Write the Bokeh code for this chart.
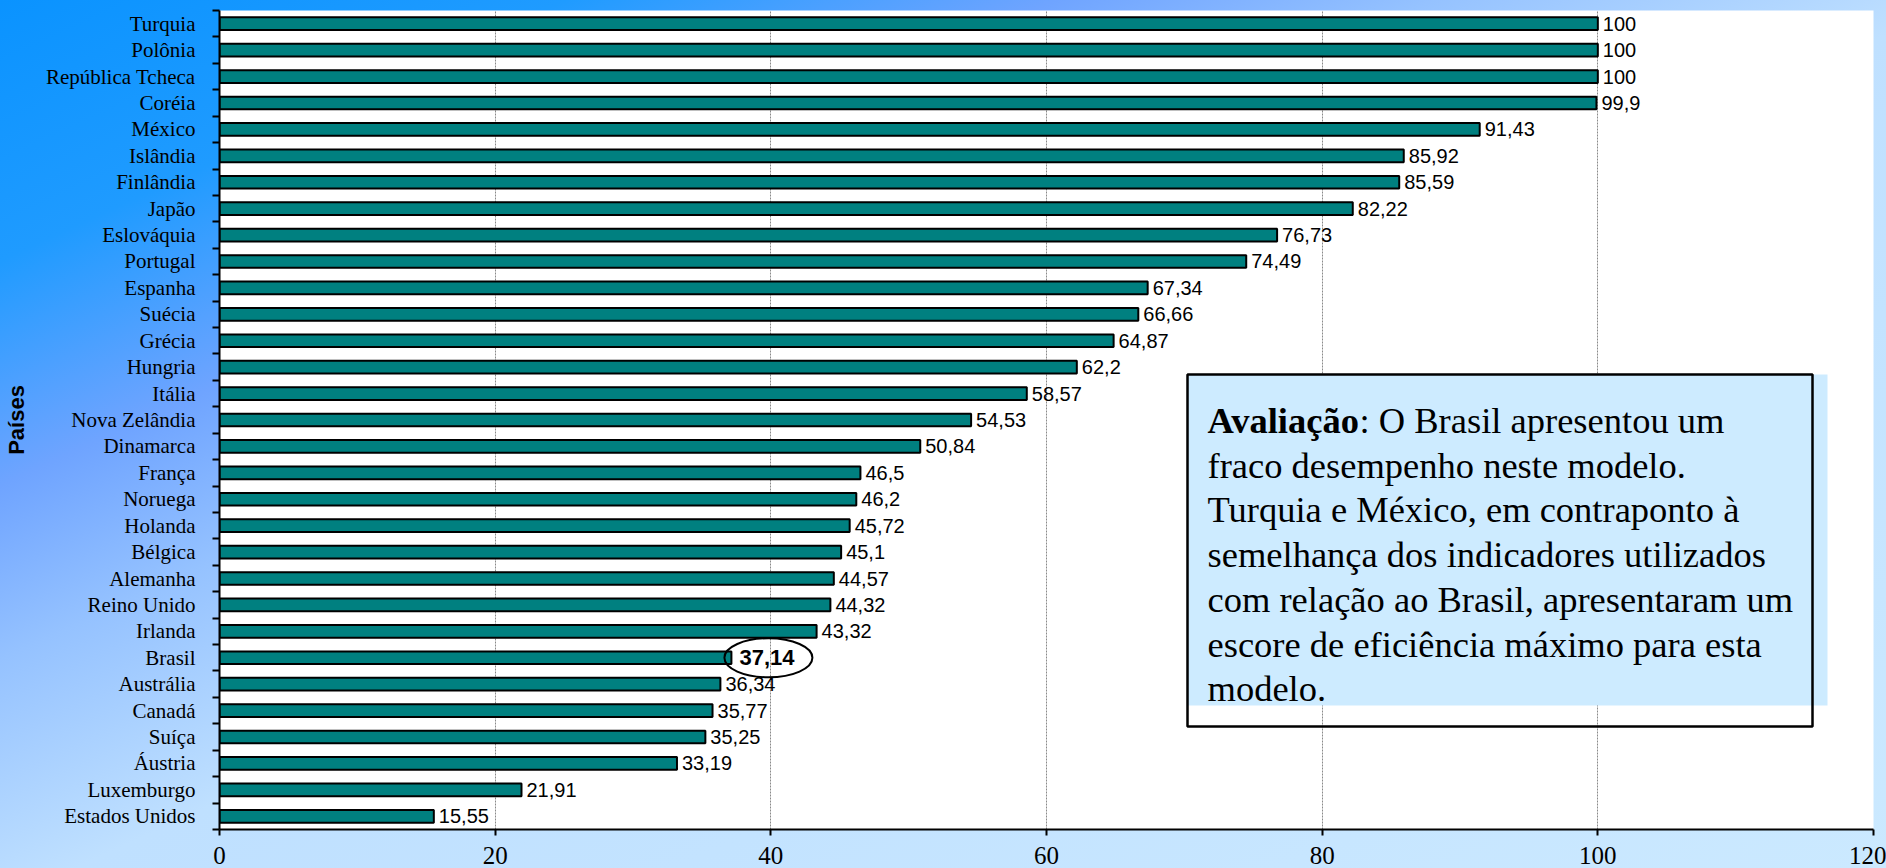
from bokeh.plotting import figure
from bokeh.models import FixedTicker, Range1d, ColumnDataSource
from bokeh.core.properties import value
from bokeh.embed import file_html
from bokeh.resources import INLINE

# ---------------- data ----------------
countries = ["Turquia", "Polônia", "República Tcheca", "Coréia", "México", "Islândia",
             "Finlândia", "Japão", "Eslováquia", "Portugal", "Espanha", "Suécia",
             "Grécia", "Hungria", "Itália", "Nova Zelândia", "Dinamarca", "França",
             "Noruega", "Holanda", "Bélgica", "Alemanha", "Reino Unido", "Irlanda",
             "Brasil", "Austrália", "Canadá", "Suíça", "Áustria", "Luxemburgo",
             "Estados Unidos"]
scores = [100, 100, 100, 99.9, 91.43, 85.92, 85.59, 82.22, 76.73, 74.49, 67.34, 66.66,
          64.87, 62.2, 58.57, 54.53, 50.84, 46.5, 46.2, 45.72, 45.1, 44.57, 44.32, 43.32,
          37.14, 36.34, 35.77, 35.25, 33.19, 21.91, 15.55]
highlight = "Brasil"
x_ticks = [0, 20, 40, 60, 80, 100, 120]
axis_title = "Países"
note_bold = "Avaliação"
note_lines = [": O Brasil apresentou um",
              "fraco desempenho neste modelo.",
              "Turquia e México, em contraponto à",
              "semelhança dos indicadores utilizados",
              "com relação ao Brasil, apresentaram um",
              "escore de eficiência máximo para esta",
              "modelo."]

# ---------------- layout helpers ----------------
W, H = 1886, 868
FL, FR, FT, FB = 219, 1873, 10, 829
N = len(countries)
XMAX = x_ticks[-1]
pxu = (FR - FL) / XMAX
pyu = (FB - FT) / N


def dx(px):
    return (px - FL) / pxu


def dy(py):
    return (N - 0.5) - (py - FT) / pyu


def fmt(v):
    s = f"{v:.2f}".rstrip("0").rstrip(".")
    return s.replace(".", ",")


ypos = [N - 1 - i for i in range(N)]
labels = [fmt(v) for v in scores]
normal = [c != highlight for c in countries]

src = ColumnDataSource(dict(y=ypos, v=scores, name=countries, lab=labels))
src_norm = ColumnDataSource(dict(y=[y for y, n in zip(ypos, normal) if n],
                                 v=[v for v, n in zip(scores, normal) if n],
                                 lab=[l for l, n in zip(labels, normal) if n]))
src_hi = ColumnDataSource(dict(y=[y for y, n in zip(ypos, normal) if not n],
                               v=[v for v, n in zip(scores, normal) if not n],
                               lab=[l for l, n in zip(labels, normal) if not n]))

p = figure(width=W, height=H, x_range=Range1d(0, XMAX), y_range=Range1d(-0.5, N - 0.5),
           output_backend="svg", toolbar_location=None,
           min_border_left=FL, min_border_right=W - FR, min_border_top=FT,
           min_border_bottom=H - FB)
p.styles = {"background": "linear-gradient(to bottom right, #0a93ff 0%, #1f9bff 15%, "
                          "#6fa4ff 28%, #95c2ff 38%, #bfe0ff 52%, #cbe9ff 100%)"}
p.border_fill_alpha = 0
p.background_fill_color = "white"
p.outline_line_color = None

# bars
p.hbar(y="y", left=0, right="v", height=0.48, source=src,
       fill_color="#008080", line_color="black", line_width=2)

# value labels
p.text(x="v", y="y", text="lab", source=src_norm, x_offset=5, text_baseline="middle",
       text_font=value("Liberation Sans"), text_font_size="20px", text_color="black")
p.text(x="v", y="y", text="lab", source=src_hi, x_offset=8, text_baseline="middle",
       text_font=value("Liberation Sans"), text_font_size="22px", text_font_style="bold",
       text_color="black")
p.ellipse(x=[v + 37 / pxu for v in src_hi.data["v"]], y=src_hi.data["y"],
          width=88, height=39, width_units="screen", height_units="screen",
          fill_color=None, line_color="black", line_width=2)

# callout box
p.quad(left=[dx(1187)], right=[dx(1827)], top=[dy(374)], bottom=[dy(705)],
       fill_color="#cdebff", line_color=None)
p.quad(left=[dx(1187)], right=[dx(1812)], top=[dy(374)], bottom=[dy(726)],
       fill_color=None, line_color="black", line_width=2.5)
tx = dx(1207)
p.text(x=[tx], y=[dy(420)], text=[note_bold], text_baseline="alphabetic",
       text_font=value("Liberation Serif"), text_font_size="36.5px",
       text_font_style="bold", text_color="black")
ys = [dy(420 + i * 44.7) for i in range(len(note_lines))]
xo = [152] + [0] * (len(note_lines) - 1)
p.text(x=[tx] * len(note_lines), y=ys, text=note_lines, x_offset=xo,
       text_baseline="alphabetic", text_font=value("Liberation Serif"),
       text_font_size="36.5px", text_color="black")

# axes
yax = p.yaxis[0]
yax.ticker = FixedTicker(ticks=ypos, minor_ticks=[i - 0.5 for i in range(N + 1)])
yax.major_label_overrides = {y: c for y, c in zip(ypos, countries)}
yax.major_tick_out = 0
yax.major_tick_in = 0
yax.minor_tick_out = 7
yax.minor_tick_in = 0
yax.minor_tick_line_color = "black"
yax.minor_tick_line_width = 2
yax.axis_line_color = "black"
yax.axis_line_width = 2
yax.major_label_standoff = 17
yax.major_label_text_font = "Liberation Serif"
yax.major_label_text_font_size = "21px"
yax.major_label_text_color = "black"
yax.axis_label = axis_title
yax.axis_label_text_font = "Liberation Sans"
yax.axis_label_text_font_style = "bold"
yax.axis_label_text_font_size = "22px"
yax.axis_label_text_color = "black"
yax.axis_label_standoff = 14

xax = p.xaxis[0]
xax.ticker = FixedTicker(ticks=x_ticks, minor_ticks=[])
xax.major_tick_out = 6
xax.major_tick_in = 0
xax.major_tick_line_width = 2
xax.major_tick_line_color = "black"
xax.axis_line_color = "black"
xax.axis_line_width = 2
xax.major_label_standoff = 11
xax.major_label_text_font = "Liberation Serif"
xax.major_label_text_font_size = "25px"
xax.major_label_text_color = "black"

p.xgrid.ticker = FixedTicker(ticks=x_ticks[1:])
p.xgrid.grid_line_color = "#8a8a8a"
p.xgrid.grid_line_dash = "2 1"
p.xgrid.grid_line_width = 1
p.ygrid.grid_line_color = None

open("out.html", "w").write(file_html(p, INLINE))
